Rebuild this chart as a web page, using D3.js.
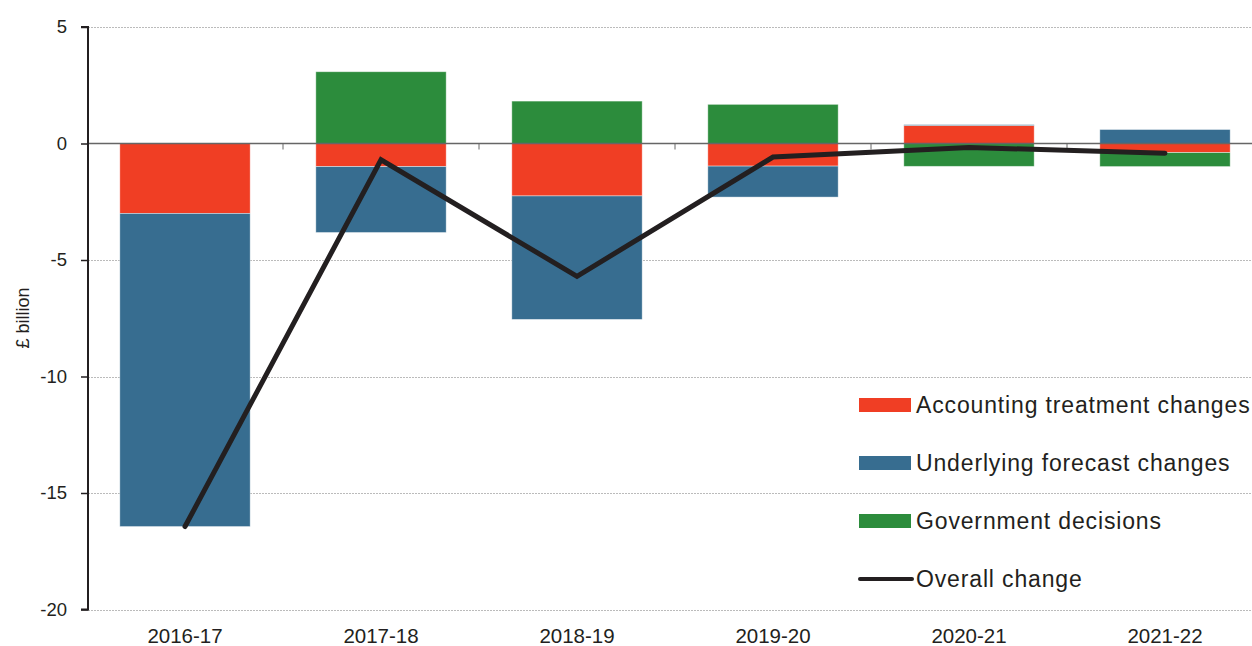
<!DOCTYPE html>
<html><head><meta charset="utf-8">
<script src="https://cdn.jsdelivr.net/npm/d3@7"></script>
<style>body{margin:0;background:#fff}svg{display:block}</style>
</head><body><svg id="c" width="1252" height="646"></svg>
<script>
const categories = ["2016-17","2017-18","2018-19","2019-20","2020-21","2021-22"];
const accounting = [-3.0, -0.99, -2.25, -0.97, 0.77, -0.39];
const underlying = [-13.44, -2.83, -5.3, -1.33, 0.04, 0.6];
const government = [0, 3.08, 1.82, 1.68, -0.98, -0.6];
const overall = [-16.44, -0.7, -5.7, -0.58, -0.17, -0.42];
const yTicks = [5, 0, -5, -10, -15, -20];
const seriesNames = ["Accounting treatment changes","Underlying forecast changes","Government decisions"];
const lineName = "Overall change";
const colors = ["#F03E24","#376D90","#2C8C3C"];

const svg = d3.select("#c");
const font = "'Liberation Sans', Arial, sans-serif";
const x = d3.scaleBand().domain(categories).range([87, 1263]).paddingInner(0.335).paddingOuter(0.1675);
const y = d3.scaleLinear().domain([-20, 5]).range([609.5, 27]);

const rows = categories.map((c,i)=>({cat:c, acc:accounting[i], und:underlying[i], gov:government[i]}));
const stack = d3.stack().keys(["acc","und","gov"]).offset(d3.stackOffsetDiverging);
const stacked = stack(rows);

// gridlines
svg.append("g").selectAll("line").data(yTicks.filter(t=>t!==0)).join("line")
  .attr("x1", 88).attr("x2", 1252).attr("y1", d=>Math.round(y(d))+0.5).attr("y2", d=>Math.round(y(d))+0.5)
  .attr("stroke", "#bbb").attr("stroke-width", 1).attr("stroke-dasharray", "2,1");

// bars
svg.append("g").selectAll("g").data(stacked).join("g")
  .attr("fill", (d,i)=>colors[i])
  .selectAll("rect").data(d=>d).join("rect")
  .attr("x", d=>x(d.data.cat)).attr("width", x.bandwidth())
  .attr("y", d=>y(Math.max(d[0],d[1]))).attr("height", d=>Math.abs(y(d[0])-y(d[1])))
  .attr("stroke", "rgba(255,255,255,0.5)").attr("stroke-width", 0.8);

// zero line
svg.append("line").attr("x1", 88).attr("x2", 1252).attr("y1", y(0)).attr("y2", y(0))
  .attr("stroke", "#666").attr("stroke-width", 1.3);
// category boundary ticks on zero line
const bounds = categories.slice(1).map(c=>x(c) - x.step()*x.paddingInner()/2);
svg.append("g").selectAll("line").data(bounds).join("line")
  .attr("x1", d=>d).attr("x2", d=>d).attr("y1", y(0)).attr("y2", y(0)+6)
  .attr("stroke", "#666").attr("stroke-width", 1);

// y axis
const yAxis = d3.axisLeft(y).tickValues(yTicks).tickSize(7).tickPadding(14).tickFormat(d3.format("d"));
const ga = svg.append("g").attr("transform", "translate(88,0)").call(yAxis);
ga.select(".domain").attr("stroke", "#231f20").attr("stroke-width", 2).attr("d", `M-7,${y(5)}H0V${y(-20)}H-7`);
ga.selectAll(".tick line").attr("stroke", "#231f20").attr("stroke-width", 1.5);
ga.selectAll(".tick text").attr("font-family", font).attr("font-size", 18.5).attr("fill", "#231f20").text(d=>d<0?"-"+Math.abs(d):d);

// x labels
const xAxis = d3.axisBottom(x).tickSize(0).tickPadding(0);
const gx = svg.append("g").attr("transform", "translate(0,643)").call(xAxis);
gx.select(".domain").remove();
gx.selectAll(".tick text").attr("font-family", font).attr("font-size", 20.5).attr("fill", "#231f20").attr("dy", 0).attr("y", 0);

// y title
svg.append("text").attr("transform", "translate(29,318) rotate(-90)").attr("text-anchor", "middle")
  .attr("font-family", font).attr("font-size", 18).attr("fill", "#231f20").text("£ billion");

// overall line
const line = d3.line().x((d,i)=>x(categories[i])+x.bandwidth()/2).y(d=>y(d));
svg.append("path").datum(overall).attr("d", line).attr("fill", "none")
  .attr("stroke", "#231f20").attr("stroke-width", 5).attr("stroke-linejoin", "miter").attr("stroke-linecap", "round");

// legend
const lg = svg.append("g").attr("transform", "translate(859,405)");
seriesNames.forEach((n,i)=>{
  const g = lg.append("g").attr("transform", `translate(0,${i*58})`);
  g.append("rect").attr("x", 0).attr("y", -7).attr("width", 52).attr("height", 14).attr("fill", colors[i]);
  g.append("text").attr("x", 57).attr("y", 0).attr("dy", "0.35em").attr("font-family", font).attr("font-size", 23).attr("letter-spacing", 0.85).attr("fill", "#231f20").text(n);
});
const gl = lg.append("g").attr("transform", `translate(0,${3*58})`);
gl.append("line").attr("x1", 1).attr("x2", 53).attr("y1", 0).attr("y2", 0).attr("stroke", "#231f20").attr("stroke-width", 4).attr("stroke-linecap", "round");
gl.append("text").attr("x", 57).attr("y", 0).attr("dy", "0.35em").attr("font-family", font).attr("font-size", 23).attr("letter-spacing", 0.85).attr("fill", "#231f20").text(lineName);
</script></body></html>
